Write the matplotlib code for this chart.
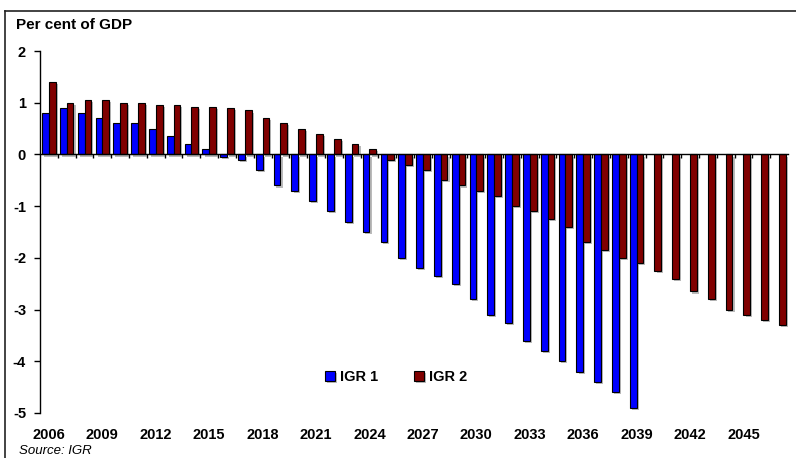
import numpy as np
import matplotlib.pyplot as plt
import matplotlib.patheffects as pe
from matplotlib.lines import Line2D

plt.rcParams['font.family'] = ['Liberation Sans', 'DejaVu Sans']

# Data (per cent of GDP)
years = list(range(2006, 2048))
igr1 = [0.8, 0.9, 0.8, 0.7, 0.6, 0.6, 0.5, 0.35, 0.2, 0.1,
        -0.05, -0.1, -0.3, -0.6, -0.7, -0.9, -1.1, -1.3, -1.5, -1.7,
        -2.0, -2.2, -2.35, -2.5, -2.8, -3.1, -3.25, -3.6, -3.8, -4.0,
        -4.2, -4.4, -4.6, -4.9]
igr2 = [1.4, 1.0, 1.05, 1.05, 1.0, 1.0, 0.95, 0.95, 0.92, 0.92,
        0.9, 0.85, 0.7, 0.6, 0.5, 0.4, 0.3, 0.2, 0.1, -0.1,
        -0.2, -0.3, -0.5, -0.6, -0.7, -0.8, -1.0, -1.1, -1.25, -1.4,
        -1.7, -1.85, -2.0, -2.1, -2.25, -2.4, -2.65, -2.8, -3.0, -3.1,
        -3.2, -3.3]
label_years = years[::3]

fig = plt.figure(figsize=(7.96, 4.58), dpi=100)
ax = fig.add_axes([40 / 796, 45 / 458, 748 / 796, 362 / 458])

x = np.arange(len(years))
w = 0.38
shadow = [pe.SimplePatchShadow(offset=(1.5, -1.5), shadow_rgbFace='0.55', alpha=0.6), pe.Normal()]
b1 = ax.bar(x[:len(igr1)] - w / 2, igr1, width=w, color='#0000FF', edgecolor='black', linewidth=0.8,
            label='IGR 1', zorder=3)
b2 = ax.bar(x + w / 2, igr2, width=w, color='#800000', edgecolor='black', linewidth=0.8,
            label='IGR 2', zorder=3)
for p in list(b1) + list(b2):
    p.set_path_effects(shadow)

ax.set_xlim(-0.5, len(years) - 0.5)
ax.set_ylim(-5, 2)

ax.spines['top'].set_visible(False)
ax.spines['right'].set_visible(False)
ax.spines['bottom'].set_position(('data', 0))
ax.spines['bottom'].set_zorder(4)
ax.spines['left'].set_linewidth(1.0)
ax.spines['bottom'].set_linewidth(1.0)

ax.set_yticks(range(-5, 3))
ax.set_yticklabels([str(v) for v in range(-5, 3)], fontsize=10.5, fontweight='bold')
ax.tick_params(axis='y', direction='out', length=4, width=1, pad=6)

ax.set_xticks([])
ax.set_xticks(np.arange(0.5, len(years) - 0.5), minor=True)
ax.tick_params(axis='x', which='minor', direction='out', length=3, width=1)

for yr in label_years:
    ax.text(years.index(yr), -0.061, str(yr), transform=ax.get_xaxis_transform(),
            ha='center', va='center', fontsize=10.5, fontweight='bold')

ax.legend(loc='center', bbox_to_anchor=(396 / 796, (458 - 377) / 458), bbox_transform=fig.transFigure,
          ncol=2, frameon=False, prop={'weight': 'bold', 'size': 10.5},
          handlelength=0.7, handleheight=0.7, handletextpad=0.3, columnspacing=2.5)

fig.text(16 / 796, 1 - 25 / 458, 'Per cent of GDP', fontsize=11, fontweight='bold', ha='left', va='center')
fig.text(19 / 796, 1 - 451 / 458, 'Source: IGR', fontsize=9.5, style='italic', ha='left', va='center')

# outer frame (top and left edges)
fig.add_artist(Line2D([5 / 796, 5 / 796], [0, 1 - 11 / 458], color='#222222', linewidth=1.2))
fig.add_artist(Line2D([5 / 796, 1], [1 - 11 / 458, 1 - 11 / 458], color='#222222', linewidth=1.2))

fig.savefig('out.png', dpi=100)
